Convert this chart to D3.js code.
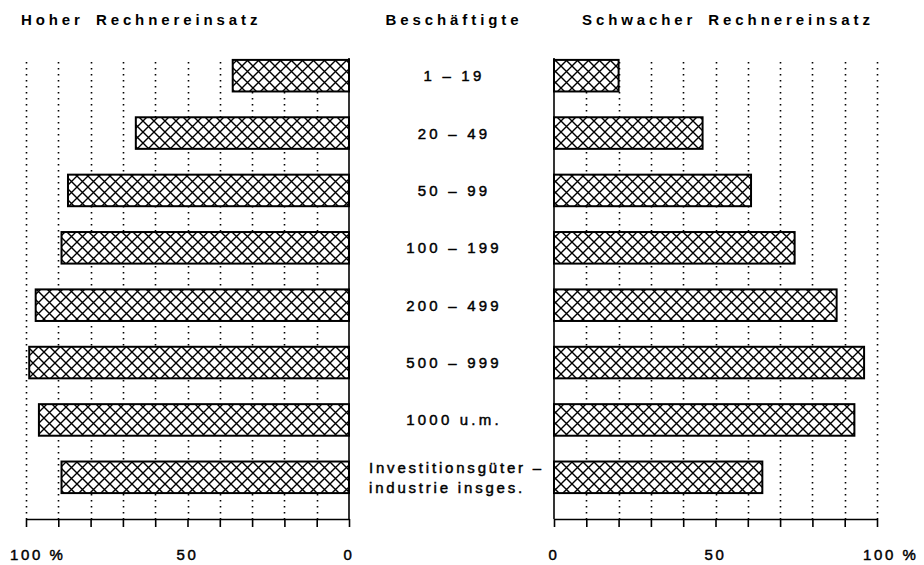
<!DOCTYPE html>
<html>
<head>
<meta charset="utf-8">
<script src="https://cdnjs.cloudflare.com/ajax/libs/d3/7.8.5/d3.min.js"></script>
<style>
  html, body { margin: 0; padding: 0; background: #fff; }
  svg { display: block; font-family: "Liberation Sans", Arial, sans-serif; }
</style>
</head>
<body>
<svg id="chart" width="924" height="565"></svg>
<script>
// data (share in %)
var categories = [ '1 – 19', '20 – 49', '50 – 99', '100 – 199', '200 – 499', '500 – 999', '1000 u.m.', 'Investitionsgüter –\nindustrie insges.' ];
var hoherValues = [ 36, 66, 87, 89, 97, 99, 96, 89 ];
var schwacherValues = [ 20, 46, 61, 74.5, 87.5, 96, 93, 64.5 ];
var tickValues = [ 0, 10, 20, 30, 40, 50, 60, 70, 80, 90, 100 ];
var tickLabels = [ { v: 0, t: '0' }, { v: 50, t: '50' }, { v: 100, t: '100 %' } ];
var titles = [ 'Hoher Rechnereinsatz', 'Beschäftigte', 'Schwacher Rechnereinsatz' ];

var svg = d3.select( '#chart' );
var baseY = 519;
var topY = 62;

// cross hatch fill
var defs = svg.append( 'defs' );
var pat = defs.append( 'pattern' )
    .attr( 'id', 'xhatch' )
    .attr( 'patternUnits', 'userSpaceOnUse' )
    .attr( 'width', 11 )
    .attr( 'height', 11 );
pat.append( 'rect' ).attr( 'width', 11 ).attr( 'height', 11 ).attr( 'fill', '#fff' );
pat.append( 'path' )
    .attr( 'd', 'M-2,-2L13,13M13,-2L-2,13' )
    .attr( 'stroke', '#000' )
    .attr( 'stroke-width', 1.4 )
    .attr( 'fill', 'none' );

var y = d3.scaleBand()
    .domain( categories )
    .range( [ 47, 506 ] )
    .paddingInner( 0.45 )
    .paddingOuter( 0.225 );

var xLeft = d3.scaleLinear().domain( [ 0, 100 ] ).range( [ 349, 26 ] );
var xRight = d3.scaleLinear().domain( [ 0, 100 ] ).range( [ 554, 877 ] );

/** Draw one half of the butterfly */
function drawPanel( x, values, labelShift ) {
    var g = svg.append( 'g' );

    // dotted guide lines
    g.selectAll( 'line.grid' )
        .data( tickValues.filter( function( d ) { return d > 0; } ) )
        .enter().append( 'line' )
        .attr( 'class', 'grid' )
        .attr( 'x1', function( d ) { return Math.round( x( d ) ) + 0.5; } )
        .attr( 'x2', function( d ) { return Math.round( x( d ) ) + 0.5; } )
        .attr( 'y1', topY )
        .attr( 'y2', baseY )
        .attr( 'stroke', '#000' )
        .attr( 'stroke-width', 1.6 )
        .attr( 'stroke-dasharray', '1.6,4.4' );

    // bars
    g.selectAll( 'rect.bar' )
        .data( values )
        .enter().append( 'rect' )
        .attr( 'class', 'bar' )
        .attr( 'x', function( d ) { return Math.min( x( 0 ), x( d ) ); } )
        .attr( 'y', function( d, i ) { return y( categories[ i ] ); } )
        .attr( 'width', function( d ) { return Math.abs( x( d ) - x( 0 ) ); } )
        .attr( 'height', y.bandwidth() )
        .attr( 'fill', 'url(#xhatch)' )
        .attr( 'stroke', '#000' )
        .attr( 'stroke-width', 2 );

    // zero line
    g.append( 'line' )
        .attr( 'x1', x( 0 ) ).attr( 'x2', x( 0 ) )
        .attr( 'y1', 58 ).attr( 'y2', baseY )
        .attr( 'stroke', '#000' )
        .attr( 'stroke-width', 1.6 );

    // axis
    var axis = d3.axisBottom( x )
        .tickValues( tickValues )
        .tickSize( 8 )
        .tickSizeOuter( 0 )
        .tickFormat( '' );
    var ax = g.append( 'g' )
        .attr( 'transform', 'translate(0,' + baseY + ')' )
        .call( axis );
    ax.select( '.domain' ).attr( 'stroke-width', 1.6 );
    ax.selectAll( '.tick line' ).attr( 'stroke-width', 1.6 );

    g.selectAll( 'text.tl' )
        .data( tickLabels )
        .enter().append( 'text' )
        .attr( 'class', 'tl' )
        .attr( 'x', function( d ) { return x( d.v ) + ( d.v == 100 ? labelShift : 0 ); } )
        .attr( 'y', 560 )
        .attr( 'text-anchor', function( d ) { return d.v == 100 ? 'start' : 'middle'; } )
        .attr( 'font-size', 15 )
        .attr( 'letter-spacing', 2.6 )
        .attr( 'stroke', '#000' )
        .attr( 'stroke-width', 0.45 )
        .text( function( d ) { return d.t; } );
}

drawPanel( xLeft, hoherValues, -16 );
drawPanel( xRight, schwacherValues, -14 );

// category labels in the middle
var lab = svg.selectAll( 'text.cat' )
    .data( categories )
    .enter().append( 'text' )
    .attr( 'class', 'cat' )
    .attr( 'font-size', 15 )
    .attr( 'stroke', '#000' )
    .attr( 'stroke-width', 0.45 )
    .attr( 'text-anchor', function( d ) { return d.indexOf( '\n' ) > -1 ? 'start' : 'middle'; } )
    .attr( 'transform', function( d ) {
        var cy = y( d ) + y.bandwidth() / 2;
        return 'translate(' + ( d.indexOf( '\n' ) > -1 ? 369 : 454 ) + ',' + cy + ')';
    });
lab.each( function( d ) {
    var lines = d.split( '\n' );
    var t = d3.select( this );
    lines.forEach( function( line, i ) {
        t.append( 'tspan' )
            .attr( 'x', 0 )
            .attr( 'dy', i == 0 ? ( 5.5 - ( lines.length - 1 ) * 10 ) : 20 )
            .attr( 'letter-spacing', lines.length > 1 ? 2.8 : 3.2 )
            .text( line );
    });
});

// titles
var titleX = [ 21, 454, 582 ];
svg.selectAll( 'text.title' )
    .data( titles )
    .enter().append( 'text' )
    .attr( 'class', 'title' )
    .attr( 'x', function( d, i ) { return titleX[ i ]; } )
    .attr( 'y', 25 )
    .attr( 'text-anchor', function( d, i ) { return i == 1 ? 'middle' : 'start'; } )
    .attr( 'font-size', 15 )
    .attr( 'font-weight', 'bold' )
    .attr( 'letter-spacing', 3.9 )
    .attr( 'word-spacing', 4 )
    .text( function( d ) { return d; } );
</script>
</body>
</html>
